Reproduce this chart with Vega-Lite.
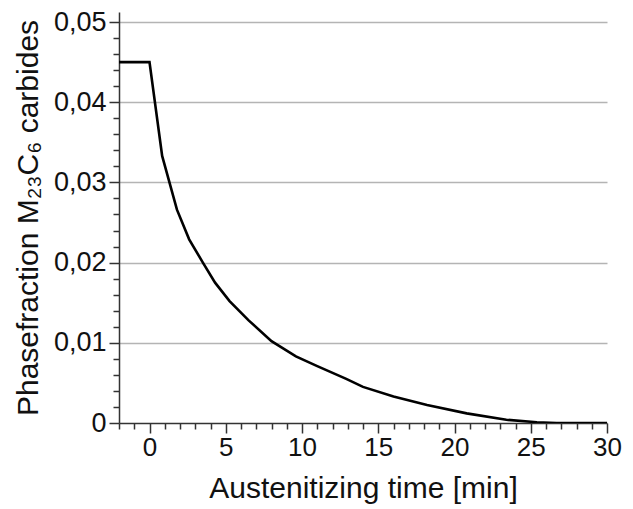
{
  "$schema": "https://vega.github.io/schema/vega-lite/v6.json",
  "autosize": {"type": "none"},
  "width": 488,
  "height": 411,
  "padding": {"left": 119, "top": 12, "right": 26, "bottom": 86},
  "background": "white",
  "config": {
    "view": {"stroke": null},
    "font": "Liberation Sans"
  },
  "data": {
    "values": [
      {"t": -2, "f": 0.045},
      {"t": 0, "f": 0.045},
      {"t": 0.83, "f": 0.0333},
      {"t": 1.8, "f": 0.0266},
      {"t": 2.6, "f": 0.0229},
      {"t": 3.5, "f": 0.0200},
      {"t": 4.3, "f": 0.0175},
      {"t": 5.25, "f": 0.0152},
      {"t": 6.5, "f": 0.0128},
      {"t": 8.0, "f": 0.0102},
      {"t": 9.6, "f": 0.0083},
      {"t": 11.0, "f": 0.0071},
      {"t": 12.9, "f": 0.0055},
      {"t": 14.0, "f": 0.0045},
      {"t": 16.0, "f": 0.0033},
      {"t": 18.2, "f": 0.00225},
      {"t": 20.8, "f": 0.0012},
      {"t": 23.4, "f": 0.0004},
      {"t": 25.4, "f": 0.0001},
      {"t": 26.7, "f": 0},
      {"t": 30, "f": 0}
    ]
  },
  "mark": {"type": "line", "color": "black", "strokeWidth": 2.6, "clip": true},
  "encoding": {
    "x": {
      "field": "t",
      "type": "quantitative",
      "scale": {"domain": [-2, 30], "nice": false, "zero": false},
      "axis": {
        "title": "Austenitizing time [min]",
        "titleFontSize": 30,
        "titleFontWeight": "normal",
        "titleColor": "#111",
        "titlePadding": 13,
        "values": [-2,-1,0,1,2,3,4,5,6,7,8,9,10,11,12,13,14,15,16,17,18,19,20,21,22,23,24,25,26,27,28,29,30],
        "labelExpr": "datum.value % 5 == 0 ? datum.value : ''",
        "labelFontSize": 26,
        "labelColor": "#111",
        "labelPadding": 1,
        "labelFlush": false,
        "labelOverlap": false,
        "tickSize": {"condition": {"test": "datum.value % 5 == 0", "value": 10}, "value": 6},
        "tickColor": "#333",
        "tickWidth": 1.5,
        "domainColor": "#333",
        "domainWidth": 1.5,
        "grid": false
      }
    },
    "y": {
      "field": "f",
      "type": "quantitative",
      "scale": {"domain": [0, 0.05125], "nice": false},
      "axis": {
        "title": "Phasefraction M₂₃C₆ carbides",
        "titleFontSize": 30,
        "titleFontWeight": "normal",
        "titleColor": "#111",
        "titlePadding": 10,
        "values": [0,0.002,0.004,0.006,0.008,0.01,0.012,0.014,0.016,0.018,0.02,0.022,0.024,0.026,0.028,0.03,0.032,0.034,0.036,0.038,0.04,0.042,0.044,0.046,0.048,0.05],
        "labelExpr": "abs(datum.value*100 - round(datum.value*100)) < 1e-6 ? (datum.value == 0 ? '0' : replace(format(datum.value, '.2f'), '.', ',')) : ''",
        "labelFontSize": 27,
        "labelColor": "#111",
        "labelPadding": 3,
        "labelOverlap": false,
        "labelFlush": false,
        "tickSize": {"condition": {"test": "abs(datum.value*100 - round(datum.value*100)) < 1e-6", "value": 10}, "value": 6},
        "tickColor": "#333",
        "tickWidth": 1.5,
        "domainColor": "#333",
        "domainWidth": 1.5,
        "grid": true,
        "gridColor": "#b4b4b4",
        "gridWidth": 1.5,
        "gridOpacity": {"condition": {"test": "abs(datum.value*100 - round(datum.value*100)) < 1e-6 && datum.value > 0", "value": 1}, "value": 0}
      }
    }
  }
}
